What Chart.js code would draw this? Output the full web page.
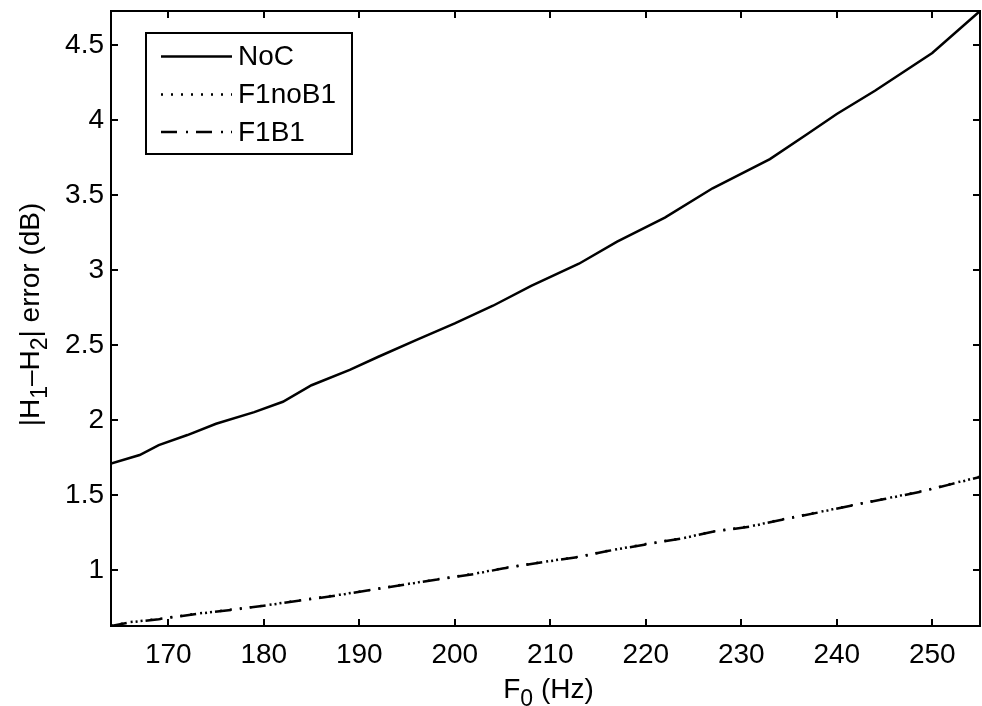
<!DOCTYPE html>
<html><head><meta charset="utf-8">
<script src="https://cdn.jsdelivr.net/npm/chart.js@4.4.1/dist/chart.umd.min.js"></script>
<style>html,body{margin:0;padding:0;background:#fff;}canvas{display:block;}</style>
</head><body>
<canvas id="c" width="982" height="706"></canvas>
<script>
// ---- data ----
const xNoC = [164,167,169,172,175,179,182,185,189,192,196,200,204,208,213,217,222,227,233,237,240,244,250,255];
const yNoC = [1.71,1.767,1.833,1.9,1.975,2.053,2.122,2.232,2.335,2.422,2.535,2.645,2.762,2.895,3.042,3.19,3.35,3.545,3.74,3.91,4.04,4.195,4.447,4.727];
const xF1 = [164,166,169,173,177,180,184,188,191,194,198,202,205,209,213,216,220,224,227,231,234,238,242,245,249,252,255];
const yF1noB1 = [0.628,0.653,0.674,0.709,0.739,0.763,0.8,0.836,0.866,0.897,0.936,0.975,1.012,1.051,1.089,1.128,1.173,1.214,1.257,1.292,1.334,1.385,1.437,1.475,1.527,1.575,1.622];
const yF1B1 = [0.627,0.652,0.672,0.708,0.737,0.762,0.798,0.834,0.865,0.895,0.935,0.973,1.01,1.05,1.087,1.127,1.171,1.213,1.255,1.29,1.332,1.383,1.436,1.473,1.525,1.573,1.62];
const seriesLabels = ['NoC','F1noB1','F1B1'];
const xTicks = [170,180,190,200,210,220,230,240,250];
const yTicks = [1,1.5,2,2.5,3,3.5,4,4.5];
const xTitleParts = [{t:'F'},{t:'0',sub:true},{t:' (Hz)'}];
const yTitleParts = [{t:'|H'},{t:'1',sub:true},{t:'\u2013H'},{t:'2',sub:true},{t:'| error (dB)'}];

const FONT = '"Liberation Sans", Arial, Helvetica, sans-serif';
const FS = 28;
const pts = (xs, ys) => xs.map((x, i) => ({x: x, y: ys[i]}));

function drawRich(ctx, parts, cx, baseY) {
  const subFS = Math.round(FS * 0.82);
  let total = 0;
  const w = parts.map(p => { ctx.font = (p.sub ? subFS : FS) + 'px ' + FONT; const m = ctx.measureText(p.t).width; total += m; return m; });
  let x = cx - total / 2;
  ctx.textBaseline = 'alphabetic'; ctx.textAlign = 'left'; ctx.fillStyle = '#000';
  parts.forEach((p, i) => {
    ctx.font = (p.sub ? subFS : FS) + 'px ' + FONT;
    ctx.fillText(p.t, x, baseY + (p.sub ? 8 : 0));
    x += w[i];
  });
}

const framePlugin = {
  id: 'frame',
  afterDraw(chart) {
    const {ctx, chartArea: a, scales} = chart;
    ctx.save();
    ctx.strokeStyle = '#000'; ctx.lineWidth = 2; ctx.setLineDash([]);
    ctx.strokeRect(a.left, a.top, a.right - a.left, a.bottom - a.top);
    const TL = 7;
    ctx.beginPath();
    xTicks.forEach(v => {
      const px = Math.round(scales.x.getPixelForValue(v));
      ctx.moveTo(px, a.bottom); ctx.lineTo(px, a.bottom - TL);
      ctx.moveTo(px, a.top); ctx.lineTo(px, a.top + TL);
    });
    yTicks.forEach(v => {
      const py = Math.round(scales.y.getPixelForValue(v));
      ctx.moveTo(a.left, py); ctx.lineTo(a.left + TL, py);
      ctx.moveTo(a.right, py); ctx.lineTo(a.right - TL, py);
    });
    ctx.stroke();

    // legend
    const lx = 146, ly = 33, lw = 206, lh = 121;
    ctx.fillStyle = '#fff';
    ctx.fillRect(lx, ly, lw, lh);
    ctx.strokeRect(lx, ly, lw, lh);
    const rows = [56.5, 94.5, 132];
    chart.data.datasets.forEach((ds, i) => {
      ctx.beginPath();
      ctx.lineWidth = ds.borderWidth; ctx.setLineDash(ds.borderDash || []);
      ctx.moveTo(161, rows[i]); ctx.lineTo(232, rows[i]);
      ctx.stroke();
      ctx.setLineDash([]);
      ctx.fillStyle = '#000';
      ctx.font = FS + 'px ' + FONT;
      ctx.textAlign = 'left'; ctx.textBaseline = 'middle';
      ctx.fillText(ds.label, 238, rows[i] + 1);
    });

    // axis titles
    drawRich(ctx, xTitleParts, (a.left + a.right) / 2 + 3, 698);
    ctx.save();
    ctx.translate(39, (a.top + a.bottom) / 2 - 4);
    ctx.rotate(-Math.PI / 2);
    drawRich(ctx, yTitleParts, 0, 0);
    ctx.restore();
    ctx.restore();
  }
};

new Chart(document.getElementById('c'), {
  type: 'line',
  data: {
    datasets: [
      {label: seriesLabels[0], data: pts(xNoC, yNoC), borderColor: '#000', borderWidth: 2.5, pointRadius: 0, tension: 0},
      {label: seriesLabels[1], data: pts(xF1, yF1noB1), borderColor: '#000', borderWidth: 2.5, borderDash: [2, 8], pointRadius: 0, tension: 0},
      {label: seriesLabels[2], data: pts(xF1, yF1B1), borderColor: '#000', borderWidth: 2.5, borderDash: [16, 9, 2, 8], pointRadius: 0, tension: 0}
    ]
  },
  options: {
    responsive: false,
    animation: false,
    layout: {padding: {top: 11, right: 2, left: 0, bottom: 0}},
    plugins: {legend: {display: false}, tooltip: {enabled: false}},
    scales: {
      x: {
        type: 'linear', min: 164, max: 255,
        afterBuildTicks: s => { s.ticks = xTicks.map(v => ({value: v})); },
        afterFit: s => { s.height = 80; s.paddingLeft = 0; s.paddingRight = 0; },
        grid: {display: false, drawTicks: false},
        border: {display: false},
        ticks: {color: '#000', font: {family: FONT, size: FS, lineHeight: 1}, padding: 15, maxRotation: 0, autoSkip: false, callback: v => String(v)}
      },
      y: {
        type: 'linear', min: 0.627, max: 4.727,
        afterBuildTicks: s => { s.ticks = yTicks.map(v => ({value: v})); },
        afterFit: s => { s.width = 111; s.paddingTop = 0; s.paddingBottom = 0; },
        grid: {display: false, drawTicks: false},
        border: {display: false},
        ticks: {color: '#000', font: {family: FONT, size: FS, lineHeight: 1}, padding: 7, autoSkip: false, callback: v => String(v)}
      }
    }
  },
  plugins: [framePlugin]
});
</script>
</body></html>
